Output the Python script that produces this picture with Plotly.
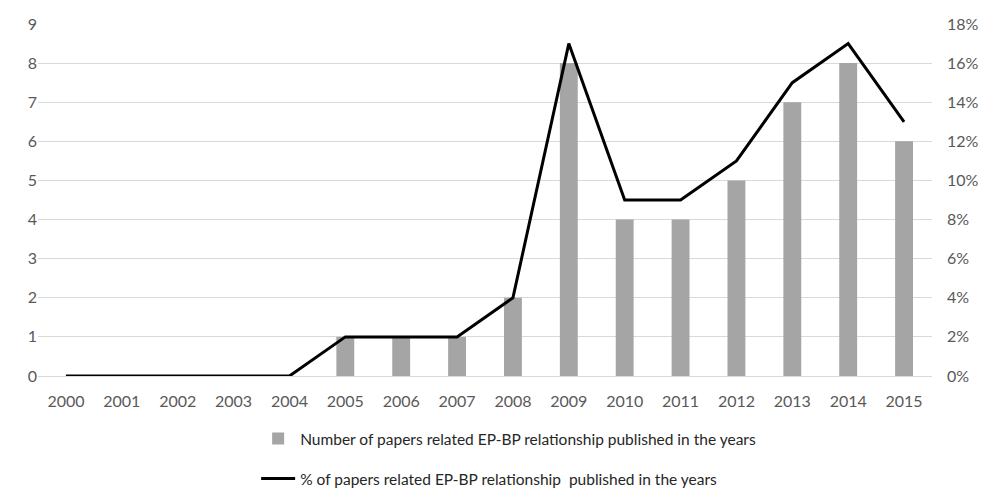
import plotly.graph_objects as go

years = [str(y) for y in range(2000, 2016)]
paper_counts = [0, 0, 0, 0, 0, 1, 1, 1, 2, 8, 4, 4, 5, 7, 8, 6]
paper_share_pct = [0, 0, 0, 0, 0, 2, 2, 2, 4, 17, 9, 9, 11, 15, 17, 13]

left_ticks = list(range(0, 10))
right_ticks = list(range(0, 20, 2))
right_tick_labels = [f"{v}%" for v in right_ticks]

bar_name = "Number of papers related EP-BP relationship published in the years"
line_name = "% of papers related EP-BP relationship  published in the years"

font_family = "Lato, 'Liberation Sans', sans-serif"
tick_color = "#595959"

fig = go.Figure()
fig.add_trace(go.Bar(
    x=years, y=paper_counts, name=bar_name,
    marker=dict(color="#A5A5A5", line=dict(width=0)),
    width=0.32, yaxis="y", legendgroup="a",
))
fig.add_trace(go.Scatter(
    x=years, y=paper_share_pct, name=line_name, mode="lines",
    line=dict(color="#000000", width=3), yaxis="y2", legendgroup="b",
))

fig.update_layout(
    width=982, height=490,
    margin=dict(l=38, r=50, t=24, b=114, autoexpand=False),
    paper_bgcolor="white", plot_bgcolor="white",
    font=dict(family=font_family, size=16, color=tick_color),
    xaxis=dict(
        type="category", showgrid=False, showline=False, ticks="",
        ticklabelstandoff=14,
        tickfont=dict(size=16, color=tick_color),
    ),
    yaxis=dict(
        range=[0, 9], tickvals=left_ticks, showgrid=True,
        gridcolor="#D9D9D9", gridwidth=1, zeroline=True,
        zerolinecolor="#D9D9D9", zerolinewidth=1, showline=False,
        ticks="", tickfont=dict(size=16, color=tick_color),
    ),
    yaxis2=dict(
        range=[0, 18], tickvals=right_ticks, ticktext=right_tick_labels,
        overlaying="y", side="right", showgrid=False, zeroline=False,
        showline=False, ticks="", ticklabelstandoff=14,
        tickfont=dict(size=16, color=tick_color),
    ),
    showlegend=True,
    legend=dict(
        orientation="v", x=0.244, xanchor="left",
        yref="container", y=0.139, yanchor="top",
        traceorder="grouped", tracegroupgap=17,
        font=dict(size=15.5, color="#262626"), itemwidth=34,
        bgcolor="rgba(0,0,0,0)",
    ),
)

fig.write_html("out.html")
